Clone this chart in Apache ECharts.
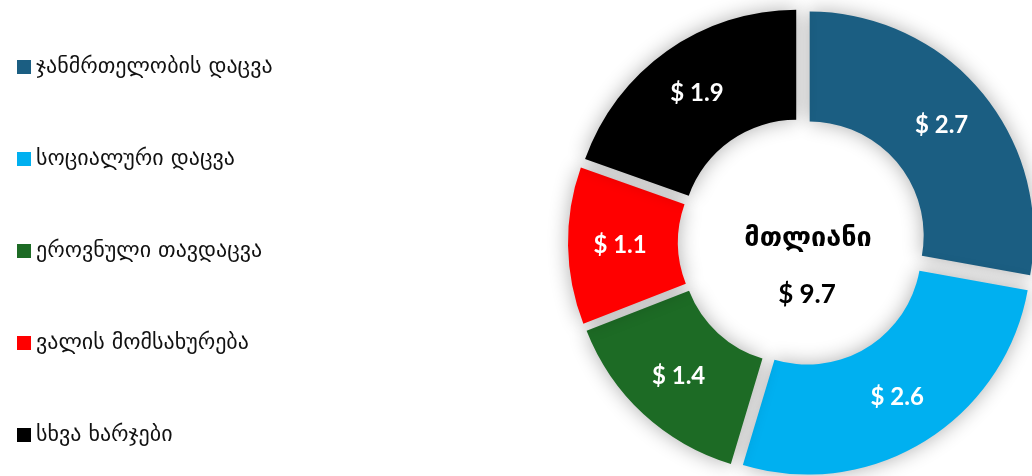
<!DOCTYPE html>
<html>
<head>
<meta charset="utf-8">
<script src="https://cdn.jsdelivr.net/npm/echarts@6/dist/echarts.min.js"></script>
<style>
  html, body { margin: 0; padding: 0; background: #fff; }
  #budgetPie { width: 1032px; height: 476px; }
</style>
</head>
<body>
<div id="budgetPie"></div>
<script>
// ბიუჯეტის ხარჯები (მლრდ $)
const categories = ['ჯანმრთელობის დაცვა', 'სოციალური დაცვა', 'ეროვნული თავდაცვა', 'ვალის მომსახურება', 'სხვა ხარჯები']
const values = [2.7, 2.6, 1.4, 1.1, 1.9]
const colors = ['#1b5e82', '#00b0f0', '#1d6b25', '#ff0000', '#000000']
const totalLabel = 'მთლიანი'
const totalValue = 9.7

const myChart = echarts.init(document.getElementById('budgetPie'))

const option = {
  animation: false,
  color: colors,
  legend: {
    orient: 'vertical',
    left: 12,
    top: 51,
    itemWidth: 14,
    itemHeight: 14,
    itemGap: 70,
    icon: 'rect',
    selectedMode: false,
    textStyle: {
      fontFamily: 'DejaVu Sans',
      fontSize: 22,
      lineHeight: 22,
      color: '#111'
    },
    data: categories
  },
  graphic: [
    {
      type: 'text',
      x: 808,
      y: 239,
      style: {
        text: totalLabel,
        font: 'bold 27px "DejaVu Sans"',
        fill: '#000',
        align: 'center',
        verticalAlign: 'middle'
      },
      z: 100
    },
    {
      type: 'text',
      x: 807,
      y: 295,
      style: {
        text: '$ ' + totalValue.toFixed(1),
        font: 'bold 26px Lato',
        fill: '#000',
        align: 'center',
        verticalAlign: 'middle'
      },
      z: 100
    }
  ],
  series: [
    {
      type: 'pie',
      center: [802, 242],
      radius: [114, 224],
      startAngle: 90,
      clockwise: true,
      selectedMode: 'multiple',
      selectedOffset: 10,
      avoidLabelOverlap: false,
      emphasis: { disabled: true },
      itemStyle: {
        shadowBlur: 20,
        shadowColor: 'rgba(0,0,0,0.32)'
      },
      label: {
        position: 'inside',
        color: '#fff',
        fontFamily: 'Lato',
        fontWeight: 'bold',
        fontSize: 24,
        formatter: p => '$ ' + p.value.toFixed(1)
      },
      labelLine: { show: false },
      data: categories.map((name, i) => ({ name, value: values[i], selected: true }))
    }
  ]
}

myChart.setOption(option)
</script>
</body>
</html>
